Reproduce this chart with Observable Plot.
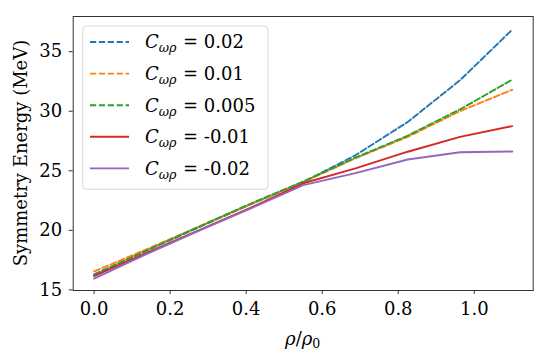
<!DOCTYPE html>
<html>
<head>
<meta charset="utf-8">
<script src="https://cdn.jsdelivr.net/npm/d3@7"></script>
<script src="https://cdn.jsdelivr.net/npm/@observablehq/plot@0.6"></script>
<style>
  html, body { margin: 0; padding: 0; background: #fff; }
  #chart { width: 550px; height: 358px; }
</style>
</head>
<body>
<div id="chart"></div>
<script>
// ---- data ----
const density = [0, 0.1375, 0.275, 0.4125, 0.55, 0.6875, 0.825, 0.9625, 1.1];
const seriesLabels = ["0.02", "0.01", "0.005", "-0.01", "-0.02"];
const s002  = [16.3, 18.3, 20.25, 22.2, 24.05, 26.3, 29.1, 32.6, 36.85];
const s001  = [16.55, 18.4, 20.3, 22.2, 24.05, 26.05, 27.85, 30.0, 31.8];
const s0005 = [16.25, 18.3, 20.3, 22.25, 24.1, 26.1, 27.95, 30.15, 32.65];
const sm001 = [16.15, 18.1, 20.0, 21.9, 23.95, 25.2, 26.6, 27.85, 28.75];
const sm002 = [15.95, 18.0, 19.95, 21.85, 23.8, 24.8, 25.95, 26.55, 26.62];
const seriesValues = [s002, s001, s0005, sm001, sm002];
const xTicks = [0, 0.2, 0.4, 0.6, 0.8, 1.0];
const yTicks = [15, 20, 25, 30, 35];

const colors = ["#1f77b4", "#ff7f0e", "#2ca02c", "#d62728", "#9467bd"];
const dashed = [true, true, true, false, false];

const rows = [];
seriesValues.forEach((vals, i) => {
  vals.forEach((v, j) => rows.push({series: seriesLabels[i], x: density[j], y: v, idx: i}));
});

const marks = [Plot.frame({stroke: "#333", strokeWidth: 1})];
seriesLabels.forEach((lab, i) => {
  marks.push(Plot.line(rows.filter(r => r.idx === i), {
    x: "x", y: "y",
    stroke: colors[i],
    strokeWidth: 1.9,
    strokeDasharray: dashed[i] ? "6.2,2.7" : null
  }));
});
marks.push(Plot.axisX({ticks: xTicks, tickFormat: d => d.toFixed(1), tickSize: 4, tickPadding: 8, label: null, stroke: "#333"}));
marks.push(Plot.axisY({ticks: yTicks, tickFormat: d => String(d), tickSize: 4, tickPadding: 7, label: null, stroke: "#333"}));

const plot = Plot.plot({
  width: 550,
  height: 358,
  marginLeft: 72.7,
  marginRight: 17.3,
  marginTop: 16,
  marginBottom: 68,
  style: {fontFamily: "'DejaVu Serif', serif", fontSize: "18px", color: "#000", background: "#fff"},
  x: {domain: [-0.055, 1.155]},
  y: {domain: [14.95, 37.95]},
  marks
});
document.getElementById("chart").appendChild(plot);

const svg = d3.select(plot);
const F = "'DejaVu Serif', serif";

// x label: rho / rho_0
const xl = svg.append("text")
  .attr("x", 302.7).attr("y", 345)
  .attr("text-anchor", "middle")
  .attr("font-family", F).attr("font-size", 18).attr("fill", "#000");
xl.append("tspan").attr("font-style", "italic").text("ρ");
xl.append("tspan").text("/");
xl.append("tspan").attr("font-style", "italic").text("ρ");
xl.append("tspan").attr("font-size", 12.6).attr("dy", 3).text("0");

// y label
svg.append("text")
  .attr("transform", "translate(27,153) rotate(-90)")
  .attr("text-anchor", "middle")
  .attr("font-family", F).attr("font-size", 18).attr("fill", "#000")
  .text("Symmetry Energy (MeV)");

// legend
const lg = svg.append("g").attr("text-anchor", "start");
lg.append("rect")
  .attr("x", 82.7).attr("y", 26).attr("width", 185.3).attr("height", 163.3)
  .attr("rx", 4).attr("fill", "rgba(255,255,255,0.8)")
  .attr("stroke", "#d6d6d6").attr("stroke-width", 1);
seriesLabels.forEach((lab, i) => {
  const cy = 42 + i * 31.6;
  lg.append("line")
    .attr("x1", 90).attr("x2", 129).attr("y1", cy).attr("y2", cy)
    .attr("stroke", colors[i]).attr("stroke-width", 1.9)
    .attr("stroke-dasharray", dashed[i] ? "6.2,2.7" : null);
  const t = lg.append("text")
    .attr("x", 145).attr("y", cy + 6.3)
    .attr("text-anchor", "start")
    .attr("font-family", F).attr("font-size", 18).attr("fill", "#000");
  t.append("tspan").attr("font-style", "italic").text("C");
  t.append("tspan").attr("font-style", "italic").attr("font-size", 12.6).attr("dy", 4).text("ωρ");
  t.append("tspan").attr("x", 183).attr("dy", -4).text("= " + lab);
});
</script>
</body>
</html>
